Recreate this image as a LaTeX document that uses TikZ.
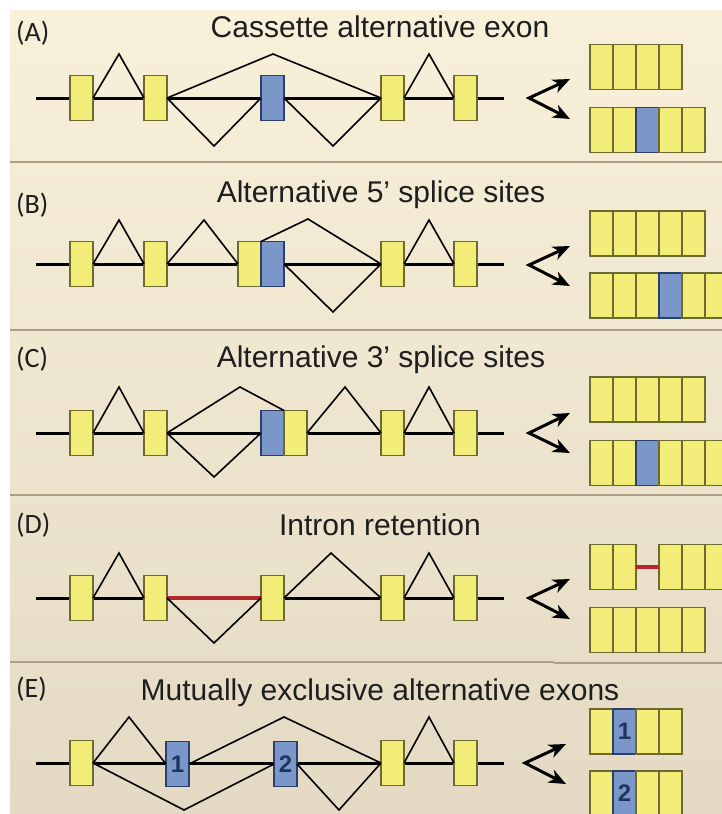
\documentclass[tikz,border=0pt]{standalone}
\usepackage{fontspec}
\setmainfont{Liberation Sans}
\newfontfamily\labfont{Carlito}
\usetikzlibrary{arrows.meta}
\definecolor{exY}{HTML}{F2EC78}
\definecolor{exYd}{HTML}{6E6A2E}
\definecolor{exB}{HTML}{7B97C9}
\definecolor{exBd}{HTML}{2B3F6B}
\definecolor{numc}{HTML}{1E3560}
\definecolor{retc}{HTML}{B5262A}
\definecolor{bgtop}{HTML}{F9F0DA}
\definecolor{bgbot}{HTML}{E4DAC3}
\definecolor{sepc}{HTML}{AE9E84}
\definecolor{txtc}{HTML}{1E1E1E}
\begin{document}
\begin{tikzpicture}[x=1pt,y=-1pt,
  exonY/.style={draw=exYd, fill=exY, line width=1.3pt, minimum width=23pt,
    minimum height=45pt, inner sep=0pt, outer sep=0pt},
  exonB/.style={exonY, draw=exBd, fill=exB,
    font=\bfseries\fontsize{24}{24}\selectfont, text=numc},
  backbone/.style={line width=3pt},
  splice/.style={line width=1.6pt, line join=miter},
  retained/.style={line width=4pt, draw=retc},
  fork/.style={line width=3pt, line join=miter,
    {Stealth[length=17pt,width=14pt,inset=5pt]}-{Stealth[length=17pt,width=14pt,inset=5pt]}},
  title/.style={font=\fontsize{30}{35}\selectfont, text=txtc, anchor=base, inner sep=0pt},
  plabel/.style={font=\labfont\fontsize{28}{32}\selectfont, text=txtc, anchor=base west, inner sep=0pt},
  sep/.style={line width=2pt, draw=sepc}]

\clip (0,0) rectangle (722,814);
\fill[white] (0,0) rectangle (722,814);
\shade[top color=bgtop, bottom color=bgbot] (10,10) rectangle (722,814);

% panel separators
\foreach \yy in {162,330,495} \draw[sep] (10,\yy) -- (722,\yy);
\draw[sep] (10,662) -- (554,662);
\draw[sep] (554,663) -- (722,663);

% ---------------- (A) cassette exon ----------------
\node[plabel] (labA) at (16,41) {(A)};
\node[title] (titA) at (380,37) {Cassette alternative exon};
\coordinate (Aw) at (36,98); \coordinate (Ae) at (504,98);
\draw[backbone] (Aw) -- (Ae);
\node[exonY] (A1) at (81.5,98) {};
\node[exonY] (A2) at (155.5,98) {};
\node[exonB] (A3) at (272.5,98) {};
\node[exonY] (A4) at (392.5,98) {};
\node[exonY] (A5) at (465.5,98) {};
\coordinate (Ap1) at (119,54);
\coordinate (Ap2) at (273,54);
\coordinate (Ap3) at (429,54);
\coordinate (Av1) at (214,146);
\coordinate (Av2) at (333,146);
\draw[splice] (A1.east) -- (Ap1) -- (A2.west);
\draw[splice] (A2.east) -- (Ap2) -- (A4.west);
\draw[splice] (A2.east) -- (Av1) -- (A3.west);
\draw[splice] (A3.east) -- (Av2) -- (A4.west);
\draw[splice] (A4.east) -- (Ap3) -- (A5.west);
\coordinate (Af) at (529,98); \coordinate (Afu) at (570,79); \coordinate (Afd) at (570,119);
\draw[fork] (Afu) -- (Af) -- (Afd);
\foreach \i/\x in {1/601.5,2/624.5,3/647.5,4/670.5}
  \node[exonY] (At\i) at (\x,67) {};
\node[exonY] (Ab1) at (601.5,130) {};
\node[exonY] (Ab2) at (624.5,130) {};
\node[exonB] (Ab3) at (647.5,130) {};
\node[exonY] (Ab4) at (670.5,130) {};
\node[exonY] (Ab5) at (693.5,130) {};

% ---------------- (B) alternative 5' splice sites ----------------
\node[plabel] (labB) at (16,213) {(B)};
\node[title] (titB) at (381,202) {Alternative 5’ splice sites};
\coordinate (Bw) at (36,264); \coordinate (Be) at (504,264);
\draw[backbone] (Bw) -- (Be);
\coordinate (Bp1) at (119,220);
\coordinate (Bp2) at (204,220);
\coordinate (Bp3) at (308,219);
\coordinate (Bp4) at (429,220);
\coordinate (Bv1) at (333,312);
\node[exonY] (B1) at (81.5,264) {};
\node[exonY] (B2) at (155.5,264) {};
\node[exonY] (B3) at (249.5,264) {};
\node[exonB] (B3b) at (272.5,264) {};
\node[exonY] (B4) at (392.5,264) {};
\node[exonY] (B5) at (465.5,264) {};
\draw[splice] (B1.east) -- (Bp1) -- (B2.west);
\draw[splice] (B2.east) -- (Bp2) -- (B3.west);
\draw[splice] (B3b.north west) -- (Bp3) -- (B4.west);
\draw[splice] (B3b.east) -- (Bv1) -- (B4.west);
\draw[splice] (B4.east) -- (Bp4) -- (B5.west);
\coordinate (Bf) at (529,265); \coordinate (Bfu) at (570,246); \coordinate (Bfd) at (570,286);
\draw[fork] (Bfu) -- (Bf) -- (Bfd);
\foreach \i/\x in {1/601.5,2/624.5,3/647.5,4/670.5,5/693.5}
  \node[exonY] (Bt\i) at (\x,233.5) {};
\node[exonY] (Bb1) at (601.5,295.5) {};
\node[exonY] (Bb2) at (624.5,295.5) {};
\node[exonY] (Bb3) at (647.5,295.5) {};
\node[exonB] (Bb4) at (670.5,295.5) {};
\node[exonY] (Bb5) at (693.5,295.5) {};
\node[exonY] (Bb6) at (716.5,295.5) {};

% ---------------- (C) alternative 3' splice sites ----------------
\node[plabel] (labC) at (16,367) {(C)};
\node[title] (titC) at (381,367) {Alternative 3’ splice sites};
\coordinate (Cw) at (36,433); \coordinate (Ce) at (504,433);
\draw[backbone] (Cw) -- (Ce);
\coordinate (Cp1) at (119,387);
\coordinate (Cp2) at (240,387);
\coordinate (Cp3) at (345,387);
\coordinate (Cp4) at (429,387);
\coordinate (Cv1) at (214,477);
\node[exonY] (C1) at (81.5,433) {};
\node[exonY] (C2) at (155.5,433) {};
\node[exonB] (C3b) at (272.5,433) {};
\node[exonY] (C3) at (295.5,433) {};
\node[exonY] (C4) at (392.5,433) {};
\node[exonY] (C5) at (465.5,433) {};
\draw[splice] (C1.east) -- (Cp1) -- (C2.west);
\draw[splice] (C2.east) -- (Cp2) -- (C3b.north east);
\draw[splice] (C2.east) -- (Cv1) -- (C3b.west);
\draw[splice] (C3.east) -- (Cp3) -- (C4.west);
\draw[splice] (C4.east) -- (Cp4) -- (C5.west);
\coordinate (Cf) at (529,433); \coordinate (Cfu) at (570,413); \coordinate (Cfd) at (570,453);
\draw[fork] (Cfu) -- (Cf) -- (Cfd);
\foreach \i/\x in {1/601.5,2/624.5,3/647.5,4/670.5,5/693.5}
  \node[exonY] (Ct\i) at (\x,399.5) {};
\node[exonY] (Cb1) at (601.5,463) {};
\node[exonY] (Cb2) at (624.5,463) {};
\node[exonB] (Cb3) at (647.5,463) {};
\node[exonY] (Cb4) at (670.5,463) {};
\node[exonY] (Cb5) at (693.5,463) {};
\node[exonY] (Cb6) at (716.5,463) {};

% ---------------- (D) intron retention ----------------
\node[plabel] (labD) at (16,533) {(D)};
\node[title] (titD) at (380,535) {Intron retention};
\coordinate (Dw) at (36,598); \coordinate (De) at (504,598);
\draw[backbone] (Dw) -- (De);
\node[exonY] (D1) at (81.5,598) {};
\node[exonY] (D2) at (155.5,598) {};
\node[exonY] (D3) at (272.5,598) {};
\node[exonY] (D4) at (392.5,598) {};
\node[exonY] (D5) at (465.5,598) {};
\draw[retained] (D2.east) -- (D3.west);
\coordinate (Dp1) at (119,553);
\coordinate (Dp2) at (331,553);
\coordinate (Dp3) at (429,553);
\coordinate (Dv1) at (214,643);
\draw[splice] (D1.east) -- (Dp1) -- (D2.west);
\draw[splice] (D2.east) -- (Dv1) -- (D3.west);
\draw[splice] (D3.east) -- (Dp2) -- (D4.west);
\draw[splice] (D4.east) -- (Dp3) -- (D5.west);
\coordinate (Df) at (529,598); \coordinate (Dfu) at (570,579); \coordinate (Dfd) at (570,619);
\draw[fork] (Dfu) -- (Df) -- (Dfd);
\node[exonY] (Dt1) at (601.5,567) {};
\node[exonY] (Dt2) at (624.5,567) {};
\node[exonY] (Dt3) at (670.5,567) {};
\node[exonY] (Dt4) at (693.5,567) {};
\node[exonY] (Dt5) at (716.5,567) {};
\draw[retained] (Dt2.east) -- (Dt3.west);
\foreach \i/\x in {1/601.5,2/624.5,3/647.5,4/670.5,5/693.5}
  \node[exonY] (Db\i) at (\x,630) {};

% ---------------- (E) mutually exclusive exons ----------------
\node[plabel] (labE) at (16,697) {(E)};
\node[title] (titE) at (380,700) {Mutually exclusive alternative exons};
\coordinate (Ew) at (36,763); \coordinate (Ee) at (504,763);
\draw[backbone] (Ew) -- (Ee);
\coordinate (Ep1) at (129,717);
\coordinate (Ep2) at (284,717);
\coordinate (Ep3) at (429,717);
\coordinate (Ev1) at (184,810);
\coordinate (Ev2) at (339,810);
\node[exonY] (E1) at (81.5,763) {};
\node[exonB] (E2) at (177.5,764) {1};
\node[exonB] (E3) at (285.5,764) {2};
\node[exonY] (E4) at (392.5,763) {};
\node[exonY] (E5) at (465.5,763) {};
\draw[splice] (E1.east) -- (Ep1) -- (E2.west);
\draw[splice] (E2.east) -- (Ep2) -- (E4.west);
\draw[splice] (E1.east) -- (Ev1) -- (E3.west);
\draw[splice] (E3.east) -- (Ev2) -- (E4.west);
\draw[splice] (E4.east) -- (Ep3) -- (E5.west);
\coordinate (Ef) at (525,763); \coordinate (Efu) at (566,744); \coordinate (Efd) at (566,784);
\draw[fork] (Efu) -- (Ef) -- (Efd);
\node[exonY] (Et1) at (601.5,731.5) {};
\node[exonB] (Et2) at (624.5,731.5) {1};
\node[exonY] (Et3) at (647.5,731.5) {};
\node[exonY] (Et4) at (670.5,731.5) {};
\node[exonY] (Eb1) at (601.5,793.5) {};
\node[exonB] (Eb2) at (624.5,793.5) {2};
\node[exonY] (Eb3) at (647.5,793.5) {};
\node[exonY] (Eb4) at (670.5,793.5) {};
\end{tikzpicture}
\end{document}
